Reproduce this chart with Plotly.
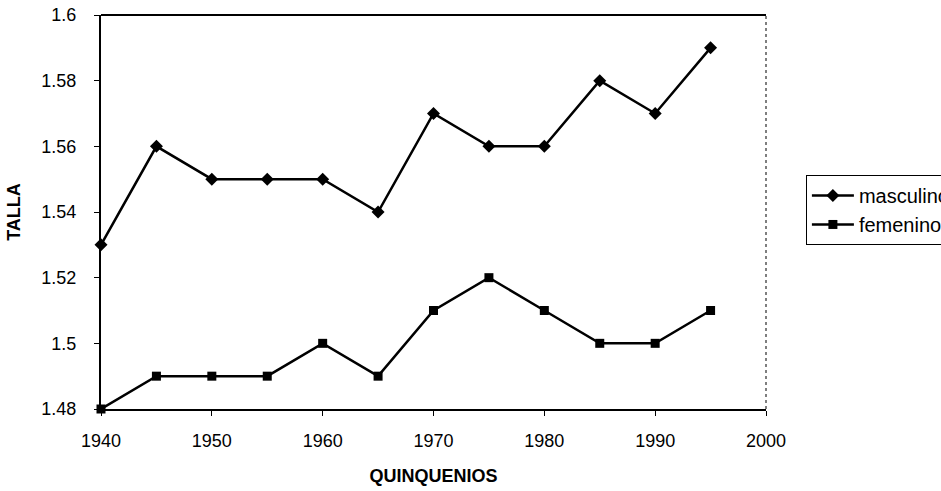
import plotly.graph_objects as go

# quinquenios y tallas medias
years = [1940, 1945, 1950, 1955, 1960, 1965, 1970, 1975, 1980, 1985, 1990, 1995]
masculino = [1.53, 1.56, 1.55, 1.55, 1.55, 1.54, 1.57, 1.56, 1.56, 1.58, 1.57, 1.59]
femenino = [1.48, 1.49, 1.49, 1.49, 1.50, 1.49, 1.51, 1.52, 1.51, 1.50, 1.50, 1.51]
x_ticks = [1940, 1950, 1960, 1970, 1980, 1990, 2000]

font = "Liberation Sans, Arial, sans-serif"

fig = go.Figure()
fig.add_trace(go.Scatter(
    x=years, y=masculino, name="masculino", mode="lines+markers",
    line=dict(color="black", width=2.5),
    marker=dict(symbol="diamond", size=10, color="black"),
    cliponaxis=False,
))
fig.add_trace(go.Scatter(
    x=years, y=femenino, name="femenino", mode="lines+markers",
    line=dict(color="black", width=2.5),
    marker=dict(symbol="square", size=9, color="black"),
    cliponaxis=False,
))

# marco superior continuo y derecho punteado, como en el original
fig.add_shape(type="line", xref="paper", yref="paper", x0=0, x1=1, y0=1, y1=1,
              line=dict(color="black", width=2))
fig.add_shape(type="line", xref="paper", yref="paper", x0=1, x1=1, y0=0, y1=1,
              line=dict(color="#555555", width=1.5, dash="dot"))

fig.update_layout(
    width=941, height=491,
    margin=dict(l=101, r=175, t=15, b=82, autoexpand=False),
    paper_bgcolor="white", plot_bgcolor="white",
    font=dict(family=font, size=18, color="black"),
    showlegend=True,
    legend=dict(
        x=1.06, y=0.594, xanchor="left", yanchor="top",
        bordercolor="black", borderwidth=1,
        font=dict(size=20), tracegroupgap=0,
        itemwidth=42,
    ),
    xaxis=dict(
        range=[1940, 2000], tickvals=x_ticks,
        showgrid=False, zeroline=False,
        showline=True, linecolor="black", linewidth=2,
        ticks="outside", ticklen=5, tickcolor="black",
        ticklabelstandoff=9,
        title=dict(text="<b>QUINQUENIOS</b>", font=dict(size=18), standoff=20),
    ),
    yaxis=dict(
        range=[1.48, 1.6], dtick=0.02,
        showgrid=False, zeroline=False,
        showline=True, linecolor="black", linewidth=2,
        ticks="outside", ticklen=5, tickcolor="black",
        ticklabelstandoff=14,
        title=dict(text="<b>TALLA</b>", font=dict(size=18), standoff=16),
    ),
)

# drop the default body margin so the figure sits at the page corner
fig.write_html("out.html", config={"displayModeBar": False},
               post_script="document.body.style.margin = '0';")
